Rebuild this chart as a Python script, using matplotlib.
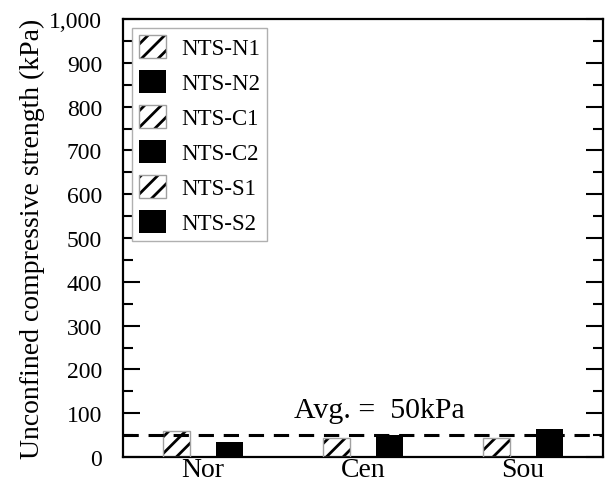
import matplotlib
matplotlib.use("Agg")
import matplotlib.pyplot as plt
from matplotlib.patches import Patch
from matplotlib.legend_handler import HandlerTuple
from matplotlib.ticker import MultipleLocator, FuncFormatter

plt.rcParams['font.family'] = ['Liberation Serif', 'DejaVu Serif']
plt.rcParams['hatch.linewidth'] = 2.0
plt.rcParams['hatch.color'] = 'black'

categories = ['Nor', 'Cen', 'Sou']
series_names = ['NTS-N1', 'NTS-N2', 'NTS-C1', 'NTS-C2', 'NTS-S1', 'NTS-S2']
series_group = [0, 0, 1, 1, 2, 2]
series_values = [60, 34, 43, 50, 43, 64]
series_hatched = [True, False, True, False, True, False]
average_value = 50
avg_label = 'Avg. =  50kPa'
ylabel = 'Unconfined compressive strength (kPa)'

fig = plt.figure(figsize=(6.06, 4.89), dpi=100)
ax = fig.add_axes([0.203, 0.0634, 0.792, 0.8956])

width = 0.17
offset = 0.166
handles = []
for name, g, v, h in zip(series_names, series_group, series_values, series_hatched):
    x = g + (-offset if h else offset)
    if h:
        ax.bar(x, v, width=width, color='white', edgecolor='black', hatch='//',
               linewidth=0, zorder=2)
        ax.bar(x, v, width=width, fill=False, edgecolor='#a0a0a0', linewidth=1.0,
               zorder=3)
        hp = Patch(facecolor='white', edgecolor='black', hatch='//', linewidth=0)
        ep = Patch(fill=False, edgecolor='#a0a0a0', linewidth=1.0)
        handles.append((hp, ep))
    else:
        ax.bar(x, v, width=width, color='black', edgecolor='black', linewidth=0,
               zorder=2)
        handles.append(Patch(facecolor='black', edgecolor='black', linewidth=0))

ax.axhline(average_value, color='black', lw=2.2, dashes=(5, 3.2), zorder=4)
ax.text(1.1, 91, avg_label, ha='center', va='baseline', fontsize=21.5)

ax.set_xlim(-0.5, 2.5)
ax.set_ylim(0, 1000)
ax.set_xticks(range(len(categories)))
ax.set_xticklabels(categories, fontsize=20)
ax.tick_params(axis='x', length=0, pad=0)
ax.yaxis.set_major_locator(MultipleLocator(100))
ax.yaxis.set_minor_locator(MultipleLocator(50))
ax.yaxis.set_major_formatter(FuncFormatter(lambda v, p: f'{int(v):,}'))
ax.tick_params(axis='y', which='both', direction='in', right=True, width=1.5,
               labelsize=17, pad=15)
ax.tick_params(axis='y', which='major', length=12.5)
ax.tick_params(axis='y', which='minor', length=7)
ax.set_ylabel(ylabel, fontsize=20, labelpad=3)
for s in ax.spines.values():
    s.set_linewidth(1.6)

leg = ax.legend(handles, series_names,
                handler_map={tuple: HandlerTuple(ndivide=1, pad=0)},
                loc='upper left', bbox_to_anchor=(0.0, 1.0), fontsize=16.5,
                fancybox=False, framealpha=1, edgecolor='#b0b0b0',
                handlelength=1.18, handleheight=1.18, handletextpad=0.65,
                labelspacing=0.46, borderpad=0.3, borderaxespad=0.4)
leg.get_frame().set_linewidth(1.0)

fig.savefig('out.png', dpi=100)
